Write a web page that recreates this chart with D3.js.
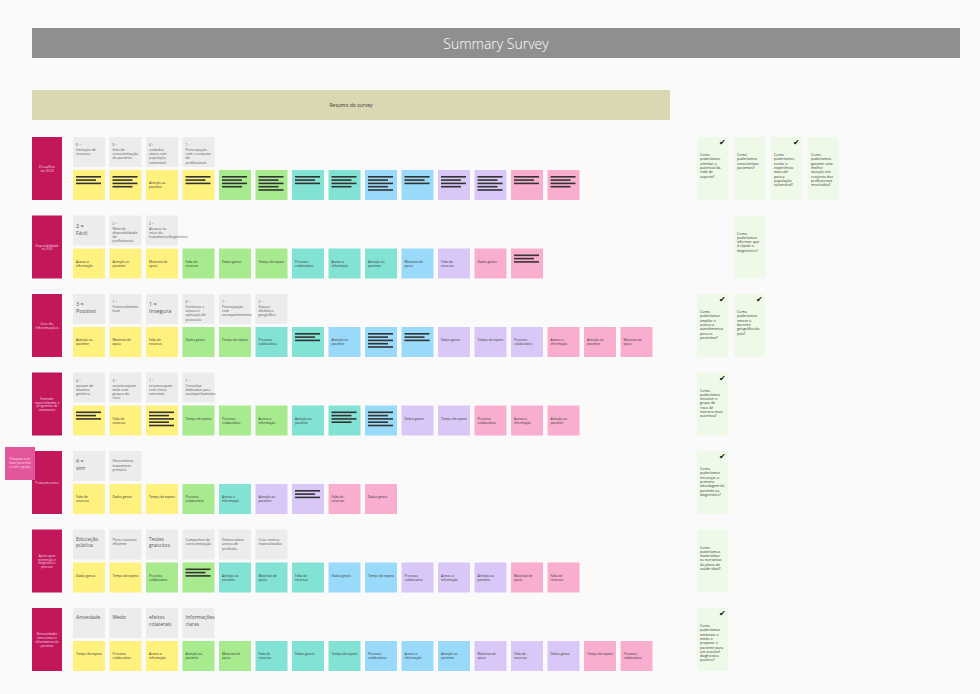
<!DOCTYPE html>
<html><head><meta charset="utf-8">
<script src="https://cdn.jsdelivr.net/npm/d3@7"></script>
<style>body{margin:0;background:#fafafa;font-family:"Open Sans",Lato,sans-serif}</style>
</head><body><svg id="c" width="980" height="694"></svg>
<script>
const title = "Summary Survey";
const subtitle = "Resumo do survey";
const rowLabels = ["Desafios no SUS","Disponibilidade no SUS","Uso de informações","Entender especialidades e programas de tratamento","Tratamentos","Ações para prevenção e diagnóstico precoce","Necessidades emocionais e informativas do paciente"];
const grayNotes = [
  ["6 = limitação de recursos","6 = falta de conscientização do paciente","4 = cuidados ativos com população vulnerável","1 = Preocupação com o conjunto de profissionais"],
  ["2 = Fácil","2 = Nível de disponibilidade de profissionais","2 = Atrasos no início do tratamento/diagnóstico"],
  ["3 = Positivo","1 = Potencialmente bom","1 = Insegura","4 = Facilitaria o acesso à aplicação de protocolo","1 = Preocupação com acompanhamento","2 = Espaço dinâmico geográfico"],
  ["4 = apoiam de maneira genérica","3 = se preocupam mais com grupos de risco","1 = se preocupam com riscos inerentes","1 = Consultas dedicadas para acompanhamento"],
  ["6 = sim","Desconhecia tratamento primário"],
  ["Educação pública","Plano nacional eficiente","Testes gratuitos","Campanhas de conscientização","Democratizar acesso de profissão","Criar centros especializados"],
  ["Ansiedade","Medo","efeitos colaterais","Informações claras"]
];
// color codes: Y yellow, G green, T teal, B blue, P purple, K pink ; L = lines placeholder
const colorNotes = [
  ["YL","YL","Y","YL","GL","GL","TL","TL","BL","BL","PL","PL","KL","KL"],
  ["Y","Y","Y","G","G","G","T","T","T","B","P","K","KL"],
  ["Y","Y","Y","G","G","T","TL","B","BL","BL","P","P","P","K","K","K"],
  ["YL","Y","YL","G","G","G","T","TL","BL","P","P","K","K","K"],
  ["Y","Y","Y","G","T","P","PL","K","K"],
  ["Y","Y","G","GL","T","T","T","B","B","P","P","P","K","K"],
  ["Y","Y","Y","G","G","T","T","T","B","B","B","P","P","P","K","K"]
];
const noteTexts = ["Processo colaborativo","Acesso a informação","Atenção ao paciente","Materiais de apoio","Falta de recursos","Dados gerais","Tempo de espera"];
const questions = [
  [["Como poderíamos otimizar o potencial da rede de suporte?",1],["Como poderíamos conscientizar pacientes?",0],["Como poderíamos tornar a experiência mais útil para a população vulnerável?",1],["Como poderíamos garantir uma melhor atuação em conjunto dos profissionais envolvidos?",0]],
  [[null],["Como poderíamos informar que é rápido o diagnóstico?",0]],
  [["Como poderíamos ampliar o acesso a atendimentos para os pacientes?",1],["Como poderíamos vencer a barreira geográfica do país?",1]],
  [["Como poderíamos envolver o grupo de risco de maneira mais assertiva?",1]],
  [["Como poderíamos encorajar a primeira abordagem do paciente ao diagnóstico?",1]],
  [["Como poderíamos materializar as narrativas do plano de saúde ideal?",0]],
  [["Como poderíamos amenizar o medo e preparar o paciente para um possível diagnóstico positivo?",1]]
];
const colors = {Y:"#fff17e",G:"#a7eb8e",T:"#82e3d4",B:"#99d9f9",P:"#d9c8f7",K:"#f9aed0"};

const svg = d3.select("#c");
svg.append("rect").attr("x",32).attr("y",28).attr("width",928).attr("height",30).attr("fill","#8f8f8f");
svg.append("text").attr("x",496).attr("y",49).attr("text-anchor","middle").attr("fill","#fff").attr("font-size",14).attr("font-weight",300).text(title);
svg.append("rect").attr("x",32).attr("y",90).attr("width",638).attr("height",30).attr("fill","#d9d8b2");
svg.append("text").attr("x",351).attr("y",107).attr("text-anchor","middle").attr("fill","#333").attr("font-size",5).text(subtitle);

const rowY = d3.scaleLinear().domain([0,6]).range([137,608]);
const colX = d3.scaleLinear().domain([0,1]).range([73,109.5]);
const qX = d3.scaleLinear().domain([0,1]).range([697,734]);

function wrap(g, text, x, y, w, fs, color, lh, anchor){
  const words = text.split(" "); let line=[], lines=[];
  const maxc = Math.floor(w/(fs*0.55));
  words.forEach(wd=>{ if((line.join(" ")+" "+wd).trim().length>maxc && line.length){lines.push(line.join(" "));line=[wd];} else line.push(wd);});
  if(line.length) lines.push(line.join(" "));
  lines.forEach((l,i)=>g.append("text").attr("x",x).attr("y",y+i*(lh||fs*1.2)).attr("font-size",fs).attr("fill",color).attr("text-anchor",anchor||"start").text(l));
  return lines.length;
}

rowLabels.forEach((lab,r)=>{
  const y0 = rowY(r);
  const g = svg.append("g");
  g.append("rect").attr("x",32).attr("y",y0).attr("width",30).attr("height",63).attr("fill","#c2185b");
  const fs = lab.length>20?3.2:4;
  const maxc = fs>3.5?9:16;
  const lines=[];let cur="";
  lab.split(" ").forEach(w=>{ if((cur+" "+w).trim().length>maxc && cur){lines.push(cur);cur=w;} else cur=(cur+" "+w).trim();});
  lines.push(cur);
  lines.forEach((l,i)=>g.append("text").attr("x",47).attr("y",y0+33-(lines.length-1)*fs*0.6+i*fs*1.2).attr("text-anchor","middle").attr("font-size",fs).attr("fill","#f6d6e3").text(l));

  grayNotes[r].forEach((t,i)=>{
    const x = colX(i);
    g.append("rect").attr("x",x).attr("y",y0).attr("width",32).attr("height",30).attr("fill","#ececec");
    const m = t.match(/^(\d) = (.*)$/);
    if(m){
      const short = m[2].length<=10;
      g.append("text").attr("x",x+3).attr("y",y0+(short?12:9)).attr("font-size",short?5.5:3.5).attr("fill","#555").text(m[1]+" =");
      wrap(g,m[2],x+3,y0+(short?19:14),27,short?5.5:3.5,"#555",short?7:4.2);
    } else {
      const fs = t.length<=18?5:3.5;
      wrap(g,t,x+3,y0+11,28,fs,"#555",fs*1.3);
    }
  });

  colorNotes[r].forEach((c,i)=>{
    const x = colX(i), y = y0+33;
    g.append("rect").attr("x",x).attr("y",y).attr("width",32).attr("height",30).attr("fill",colors[c[0]]);
    if(c.length>1){
      const n = 3+(i%3);
      d3.range(n).forEach(k=>g.append("rect").attr("x",x+3).attr("y",y+6+k*3.3).attr("width",k%2?20:25).attr("height",1.6).attr("fill","#333"));
    } else {
      wrap(g,noteTexts[(i+r)%noteTexts.length],x+3,y+14,28,3.2,"#333",4);
    }
  });

  questions[r].forEach((q,i)=>{
    if(q[0]===null) return;
    const x = qX(i);
    g.append("rect").attr("x",x).attr("y",y0).attr("width",31).attr("height",63).attr("fill","#eef9e8");
    wrap(g,q[0],x+3,y0+19,26,3.6,"#333",4.3);
    if(q[1]) g.append("text").attr("x",x+22).attr("y",y0+8).attr("font-size",8).attr("fill","#111").text("✔");
  });
});
svg.append("rect").attr("x",5).attr("y",447).attr("width",30).attr("height",33).attr("fill","#e2569a");
wrap(svg,"Pesquisa com mais pacientes e com o grupo",20,460,25,3.2,"#fde",4,"middle");
</script></body></html>
